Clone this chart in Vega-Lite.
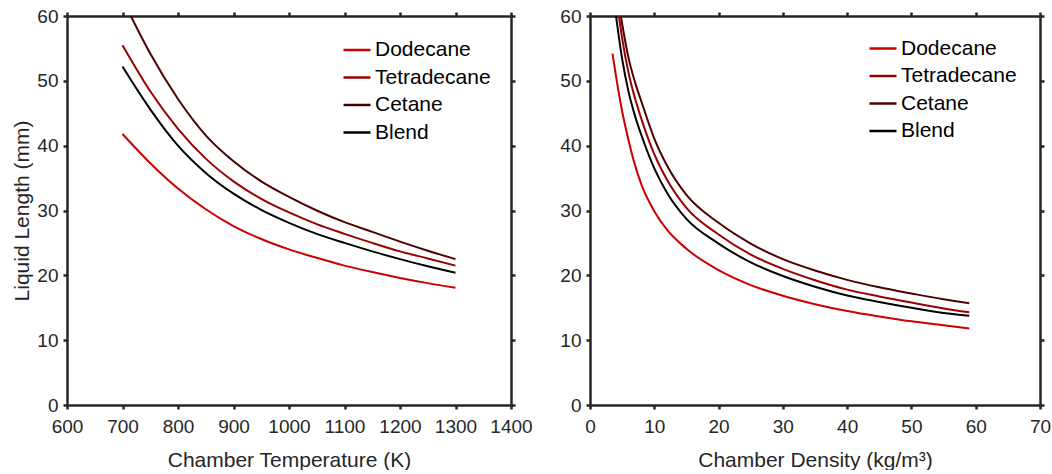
{
  "$schema": "https://vega.github.io/schema/vega-lite/v6.json",
  "background": "white",
  "padding": {"left": 11, "top": 7, "right": 5, "bottom": 0},
  "datasets": {
    "temp": [
      {"T": 700, "L": 41.8, "fuel": "Dodecane"}, {"T": 750, "L": 37.3, "fuel": "Dodecane"}, {"T": 800, "L": 33.4, "fuel": "Dodecane"}, {"T": 850, "L": 30.2, "fuel": "Dodecane"}, {"T": 900, "L": 27.6, "fuel": "Dodecane"}, {"T": 950, "L": 25.6, "fuel": "Dodecane"}, {"T": 1000, "L": 24.0, "fuel": "Dodecane"}, {"T": 1050, "L": 22.7, "fuel": "Dodecane"}, {"T": 1100, "L": 21.5, "fuel": "Dodecane"}, {"T": 1150, "L": 20.5, "fuel": "Dodecane"}, {"T": 1200, "L": 19.6, "fuel": "Dodecane"}, {"T": 1250, "L": 18.8, "fuel": "Dodecane"}, {"T": 1300, "L": 18.1, "fuel": "Dodecane"},
      {"T": 700, "L": 55.5, "fuel": "Tetradecane"}, {"T": 750, "L": 48.4, "fuel": "Tetradecane"}, {"T": 800, "L": 42.6, "fuel": "Tetradecane"}, {"T": 850, "L": 38.0, "fuel": "Tetradecane"}, {"T": 900, "L": 34.5, "fuel": "Tetradecane"}, {"T": 950, "L": 31.8, "fuel": "Tetradecane"}, {"T": 1000, "L": 29.7, "fuel": "Tetradecane"}, {"T": 1050, "L": 27.9, "fuel": "Tetradecane"}, {"T": 1100, "L": 26.4, "fuel": "Tetradecane"}, {"T": 1150, "L": 25.0, "fuel": "Tetradecane"}, {"T": 1200, "L": 23.7, "fuel": "Tetradecane"}, {"T": 1250, "L": 22.6, "fuel": "Tetradecane"}, {"T": 1300, "L": 21.5, "fuel": "Tetradecane"},
      {"T": 715, "L": 60.0, "fuel": "Cetane"}, {"T": 750, "L": 54.2, "fuel": "Cetane"}, {"T": 800, "L": 47.2, "fuel": "Cetane"}, {"T": 850, "L": 41.6, "fuel": "Cetane"}, {"T": 900, "L": 37.6, "fuel": "Cetane"}, {"T": 950, "L": 34.5, "fuel": "Cetane"}, {"T": 1000, "L": 32.1, "fuel": "Cetane"}, {"T": 1050, "L": 30.0, "fuel": "Cetane"}, {"T": 1100, "L": 28.2, "fuel": "Cetane"}, {"T": 1150, "L": 26.7, "fuel": "Cetane"}, {"T": 1200, "L": 25.2, "fuel": "Cetane"}, {"T": 1250, "L": 23.8, "fuel": "Cetane"}, {"T": 1300, "L": 22.5, "fuel": "Cetane"},
      {"T": 700, "L": 52.2, "fuel": "Blend"}, {"T": 750, "L": 45.6, "fuel": "Blend"}, {"T": 800, "L": 40.0, "fuel": "Blend"}, {"T": 850, "L": 35.8, "fuel": "Blend"}, {"T": 900, "L": 32.6, "fuel": "Blend"}, {"T": 950, "L": 30.1, "fuel": "Blend"}, {"T": 1000, "L": 28.1, "fuel": "Blend"}, {"T": 1050, "L": 26.4, "fuel": "Blend"}, {"T": 1100, "L": 25.0, "fuel": "Blend"}, {"T": 1150, "L": 23.7, "fuel": "Blend"}, {"T": 1200, "L": 22.5, "fuel": "Blend"}, {"T": 1250, "L": 21.4, "fuel": "Blend"}, {"T": 1300, "L": 20.4, "fuel": "Blend"}
    ],
    "dens": [
      {"rho": 3.5, "L": 54.2, "fuel": "Dodecane"}, {"rho": 4, "L": 51.0, "fuel": "Dodecane"}, {"rho": 5, "L": 45.3, "fuel": "Dodecane"}, {"rho": 6, "L": 40.8, "fuel": "Dodecane"}, {"rho": 7, "L": 37.0, "fuel": "Dodecane"}, {"rho": 8, "L": 34.0, "fuel": "Dodecane"}, {"rho": 10, "L": 29.9, "fuel": "Dodecane"}, {"rho": 12, "L": 27.0, "fuel": "Dodecane"}, {"rho": 15, "L": 24.1, "fuel": "Dodecane"}, {"rho": 20, "L": 20.8, "fuel": "Dodecane"}, {"rho": 25, "L": 18.5, "fuel": "Dodecane"}, {"rho": 30, "L": 16.85, "fuel": "Dodecane"}, {"rho": 35, "L": 15.55, "fuel": "Dodecane"}, {"rho": 40, "L": 14.5, "fuel": "Dodecane"}, {"rho": 45, "L": 13.65, "fuel": "Dodecane"}, {"rho": 50, "L": 12.9, "fuel": "Dodecane"}, {"rho": 55, "L": 12.3, "fuel": "Dodecane"}, {"rho": 59, "L": 11.8, "fuel": "Dodecane"},
      {"rho": 4.5, "L": 60.0, "fuel": "Tetradecane"}, {"rho": 5, "L": 56.6, "fuel": "Tetradecane"}, {"rho": 6, "L": 51.2, "fuel": "Tetradecane"}, {"rho": 7, "L": 47.3, "fuel": "Tetradecane"}, {"rho": 8, "L": 44.1, "fuel": "Tetradecane"}, {"rho": 10, "L": 38.7, "fuel": "Tetradecane"}, {"rho": 12, "L": 34.7, "fuel": "Tetradecane"}, {"rho": 15, "L": 30.4, "fuel": "Tetradecane"}, {"rho": 20, "L": 26.3, "fuel": "Tetradecane"}, {"rho": 25, "L": 23.2, "fuel": "Tetradecane"}, {"rho": 30, "L": 21.0, "fuel": "Tetradecane"}, {"rho": 35, "L": 19.25, "fuel": "Tetradecane"}, {"rho": 40, "L": 17.8, "fuel": "Tetradecane"}, {"rho": 45, "L": 16.75, "fuel": "Tetradecane"}, {"rho": 50, "L": 15.8, "fuel": "Tetradecane"}, {"rho": 55, "L": 14.9, "fuel": "Tetradecane"}, {"rho": 59, "L": 14.3, "fuel": "Tetradecane"},
      {"rho": 4.8, "L": 60.0, "fuel": "Cetane"}, {"rho": 5, "L": 58.8, "fuel": "Cetane"}, {"rho": 6, "L": 53.5, "fuel": "Cetane"}, {"rho": 7, "L": 49.8, "fuel": "Cetane"}, {"rho": 8, "L": 46.8, "fuel": "Cetane"}, {"rho": 10, "L": 41.1, "fuel": "Cetane"}, {"rho": 12, "L": 36.9, "fuel": "Cetane"}, {"rho": 15, "L": 32.4, "fuel": "Cetane"}, {"rho": 20, "L": 28.1, "fuel": "Cetane"}, {"rho": 25, "L": 24.9, "fuel": "Cetane"}, {"rho": 30, "L": 22.5, "fuel": "Cetane"}, {"rho": 35, "L": 20.75, "fuel": "Cetane"}, {"rho": 40, "L": 19.3, "fuel": "Cetane"}, {"rho": 45, "L": 18.15, "fuel": "Cetane"}, {"rho": 50, "L": 17.2, "fuel": "Cetane"}, {"rho": 55, "L": 16.3, "fuel": "Cetane"}, {"rho": 59, "L": 15.7, "fuel": "Cetane"},
      {"rho": 4.05, "L": 60.0, "fuel": "Blend"}, {"rho": 4.5, "L": 56.7, "fuel": "Blend"}, {"rho": 5, "L": 53.4, "fuel": "Blend"}, {"rho": 6, "L": 48.3, "fuel": "Blend"}, {"rho": 7, "L": 44.6, "fuel": "Blend"}, {"rho": 8, "L": 41.6, "fuel": "Blend"}, {"rho": 10, "L": 36.5, "fuel": "Blend"}, {"rho": 12, "L": 32.7, "fuel": "Blend"}, {"rho": 15, "L": 28.7, "fuel": "Blend"}, {"rho": 20, "L": 24.9, "fuel": "Blend"}, {"rho": 25, "L": 22.0, "fuel": "Blend"}, {"rho": 30, "L": 19.9, "fuel": "Blend"}, {"rho": 35, "L": 18.25, "fuel": "Blend"}, {"rho": 40, "L": 16.9, "fuel": "Blend"}, {"rho": 45, "L": 15.9, "fuel": "Blend"}, {"rho": 50, "L": 15.0, "fuel": "Blend"}, {"rho": 55, "L": 14.2, "fuel": "Blend"}, {"rho": 59, "L": 13.75, "fuel": "Blend"}
    ]
  },
  "hconcat": [
    {
      "width": 444,
      "height": 389,
      "data": {"name": "temp"},
      "layer": [
        {
          "mark": {"type": "line", "strokeWidth": 2, "clip": true, "interpolate": "monotone"},
          "encoding": {
            "x": {"field": "T", "type": "quantitative", "scale": {"domain": [600, 1400], "nice": false}, "axis": {"orient": "bottom", "values": [600, 700, 800, 900, 1000, 1100, 1200, 1300, 1400], "title": "Chamber Temperature (K)", "domain": true, "domainColor": "#262626", "domainWidth": 2.5, "ticks": true, "tickSize": 4, "tickColor": "#262626", "tickWidth": 2.5, "labelPadding": 8}},
            "y": {"field": "L", "type": "quantitative", "scale": {"domain": [0, 60], "nice": false}, "axis": {"orient": "left", "values": [0, 10, 20, 30, 40, 50, 60], "title": "Liquid Length (mm)", "domain": true, "domainColor": "#262626", "domainWidth": 2.5, "ticks": true, "tickSize": 4, "tickColor": "#262626", "tickWidth": 2.5, "labelPadding": 5}},
            "color": {"field": "fuel", "type": "nominal", "scale": {"domain": ["Dodecane", "Tetradecane", "Cetane", "Blend"], "range": ["#cc0000", "#990000", "#4d0000", "#000000"]}, "legend": {"orient": "none", "legendX": 275, "legendY": 19, "title": null}}
          }
        },
        {
          "mark": {"type": "point", "opacity": 0},
          "encoding": {
            "x": {"field": "T", "type": "quantitative", "scale": {"domain": [600, 1400], "nice": false}, "axis": {"orient": "top", "labels": false, "title": null, "values": [600, 700, 800, 900, 1000, 1100, 1200, 1300, 1400], "domain": true, "domainColor": "#262626", "domainWidth": 2.5, "ticks": true, "tickSize": 4, "tickColor": "#262626", "tickWidth": 2.5}},
            "y": {"field": "L", "type": "quantitative", "scale": {"domain": [0, 60], "nice": false}, "axis": {"orient": "right", "labels": false, "title": null, "values": [0, 10, 20, 30, 40, 50, 60], "domain": true, "domainColor": "#262626", "domainWidth": 2.5, "ticks": true, "tickSize": 4, "tickColor": "#262626", "tickWidth": 2.5}}
          }
        }
      ],
      "resolve": {"axis": {"x": "independent", "y": "independent"}}
    },
    {
      "width": 450,
      "height": 389,
      "data": {"name": "dens"},
      "layer": [
        {
          "mark": {"type": "line", "strokeWidth": 2, "clip": true, "interpolate": "monotone"},
          "encoding": {
            "x": {"field": "rho", "type": "quantitative", "scale": {"domain": [0, 70], "nice": false}, "axis": {"orient": "bottom", "values": [0, 10, 20, 30, 40, 50, 60, 70], "title": "Chamber Density (kg/m³)", "domain": true, "domainColor": "#262626", "domainWidth": 2.5, "ticks": true, "tickSize": 4, "tickColor": "#262626", "tickWidth": 2.5, "labelPadding": 8}},
            "y": {"field": "L", "type": "quantitative", "scale": {"domain": [0, 60], "nice": false}, "axis": {"orient": "left", "values": [0, 10, 20, 30, 40, 50, 60], "title": null, "domain": true, "domainColor": "#262626", "domainWidth": 2.5, "ticks": true, "tickSize": 4, "tickColor": "#262626", "tickWidth": 2.5, "labelPadding": 5}},
            "color": {"field": "fuel", "type": "nominal", "scale": {"domain": ["Dodecane", "Tetradecane", "Cetane", "Blend"], "range": ["#cc0000", "#990000", "#4d0000", "#000000"]}, "legend": {"orient": "none", "legendX": 278, "legendY": 17.5, "title": null}}
          }
        },
        {
          "mark": {"type": "point", "opacity": 0},
          "encoding": {
            "x": {"field": "rho", "type": "quantitative", "scale": {"domain": [0, 70], "nice": false}, "axis": {"orient": "top", "labels": false, "title": null, "values": [0, 10, 20, 30, 40, 50, 60, 70], "domain": true, "domainColor": "#262626", "domainWidth": 2.5, "ticks": true, "tickSize": 4, "tickColor": "#262626", "tickWidth": 2.5}},
            "y": {"field": "L", "type": "quantitative", "scale": {"domain": [0, 60], "nice": false}, "axis": {"orient": "right", "labels": false, "title": null, "values": [0, 10, 20, 30, 40, 50, 60], "domain": true, "domainColor": "#262626", "domainWidth": 2.5, "ticks": true, "tickSize": 4, "tickColor": "#262626", "tickWidth": 2.5}}
          }
        }
      ],
      "resolve": {"axis": {"x": "independent", "y": "independent"}}
    }
  ],
  "spacing": 79,
  "bounds": "flush",
  "resolve": {"legend": {"color": "independent"}, "scale": {"color": "independent"}},
  "config": {
    "view": {"stroke": null},
    "axis": {
      "grid": false,
      "labelOverlap": false,
      "labelFlush": false,
      "format": "d",
      "labelFont": "Liberation Sans",
      "labelFontSize": 19,
      "labelColor": "#262626",
      "titleFont": "Liberation Sans",
      "titleFontSize": 21,
      "titleFontWeight": "normal",
      "titleColor": "#262626"
    },
    "axisX": {"titlePadding": 13},
    "axisY": {"titlePadding": 4},
    "legend": {
      "padding": 0,
      "symbolType": "stroke",
      "symbolSize": 729,
      "symbolStrokeWidth": 2.5,
      "labelFont": "Liberation Sans",
      "labelFontSize": 21,
      "labelColor": "#000000",
      "labelOffset": 3,
      "rowPadding": 2.5
    }
  }
}
